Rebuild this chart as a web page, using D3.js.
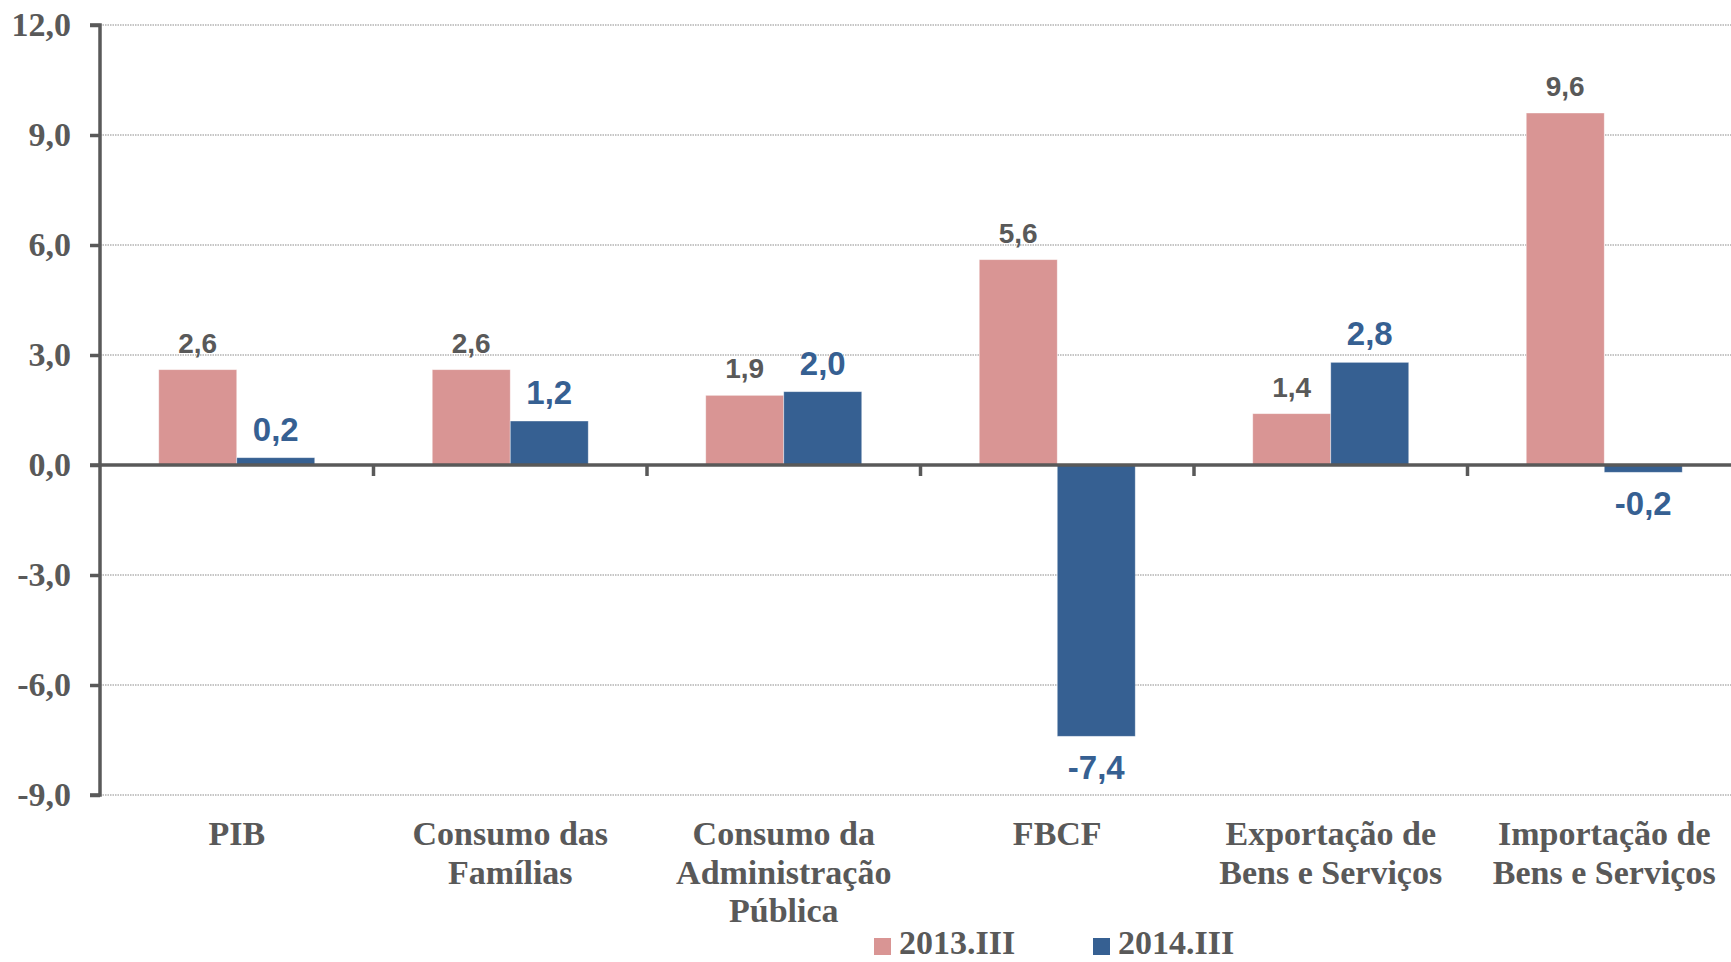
<!DOCTYPE html>
<html>
<head>
<meta charset="utf-8">
<script src="https://cdn.jsdelivr.net/npm/d3@7"></script>
<style>
  html, body { margin: 0; padding: 0; background: #fff; }
  svg { display: block; }
</style>
</head>
<body>
<svg id="chart" width="1731" height="962"></svg>
<script>
const categories = [
  ["PIB"],
  ["Consumo das", "Famílias"],
  ["Consumo da", "Administração", "Pública"],
  ["FBCF"],
  ["Exportação de", "Bens e Serviços"],
  ["Importação de", "Bens e Serviços"]
];
const seriesNames = ["2013.III", "2014.III"];
const values2013 = [2.6, 2.6, 1.9, 5.6, 1.4, 9.6];
const values2014 = [0.2, 1.2, 2.0, -7.4, 2.8, -0.2];
const yTicks = [12, 9, 6, 3, 0, -3, -6, -9];

const colors = ["#D99594", "#366092"];
const labelColors = ["#595959", "#366092"];
const gray = "#595959";

(function () {
const svg = d3.select("#chart");
const left = 100, plotTop = 25, plotBottom = 795;
const rightBand = 1741;

const y = d3.scaleLinear().domain([-9, 12]).range([plotBottom, plotTop]);
const x0 = d3.scaleBand().domain(d3.range(categories.length)).range([left, rightBand]).paddingInner(0).paddingOuter(0);
const x1 = d3.scaleBand().domain([0, 1]).range([0, x0.bandwidth()]).paddingInner(0).paddingOuter(0.753);

// gridlines
svg.append("g").selectAll("line").data(yTicks.filter(d => d !== 0)).join("line")
  .attr("x1", left).attr("x2", 1731)
  .attr("y1", d => y(d)).attr("y2", d => y(d))
  .attr("stroke", "#8c8c8c").attr("stroke-width", 1.2).attr("stroke-dasharray", "1.5,1");

// y axis
const yAxis = d3.axisLeft(y).tickValues(yTicks).tickSize(10).tickPadding(19)
  .tickFormat(d => d3.format(".1f")(d).replace(".", ",").replace("−", "-"));
const gy = svg.append("g").attr("transform", `translate(${left},0)`).call(yAxis);
gy.select(".domain").attr("stroke", gray).attr("stroke-width", 3.5).attr("d", `M-10,${plotTop}H0V${plotBottom}H-10`);
gy.selectAll(".tick line").attr("stroke", gray).attr("stroke-width", 3.5);
gy.selectAll(".tick text")
  .attr("font-family", "'Liberation Serif', 'Times New Roman', serif")
  .attr("font-weight", "bold").attr("font-size", 34).attr("fill", gray)
  .attr("dy", "0.32em");

const data = categories.map((c, i) => ({ i, vals: [values2013[i], values2014[i]] }));

// bars
const groups = svg.append("g").selectAll("g").data(data).join("g")
  .attr("transform", d => `translate(${x0(d.i)},0)`);
groups.selectAll("rect").data(d => d.vals.map((v, s) => ({ v, s }))).join("rect")
  .attr("x", d => x1(d.s))
  .attr("width", x1.bandwidth())
  .attr("y", d => Math.min(y(d.v), y(0)))
  .attr("height", d => Math.abs(y(d.v) - y(0)))
  .attr("fill", d => colors[d.s])
  .attr("stroke", "#ffffff").attr("stroke-opacity", 0.5).attr("stroke-width", 0.8);

// data labels
groups.selectAll("text").data(d => d.vals.map((v, s) => ({ v, s }))).join("text")
  .attr("x", d => x1(d.s) + x1.bandwidth() / 2)
  .attr("y", d => d.v >= 0 ? y(d.v) - 17 : y(d.v) + 43)
  .attr("text-anchor", "middle")
  .attr("font-family", "'Liberation Sans', Arial, sans-serif")
  .attr("font-weight", "bold")
  .attr("font-size", d => d.s === 0 ? 28 : 33)
  .attr("fill", d => labelColors[d.s])
  .text(d => d3.format(".1f")(d.v).replace(".", ",").replace("−", "-"));

// zero line + category ticks
svg.append("line").attr("x1", left - 10).attr("x2", 1731)
  .attr("y1", y(0)).attr("y2", y(0)).attr("stroke", gray).attr("stroke-width", 3.5);
svg.append("g").selectAll("line").data(d3.range(1, categories.length)).join("line")
  .attr("x1", d => x0(d)).attr("x2", d => x0(d))
  .attr("y1", y(0)).attr("y2", y(0) + 11)
  .attr("stroke", gray).attr("stroke-width", 3.5);

// category labels
const catG = svg.append("g").selectAll("text").data(categories).join("text")
  .attr("x", (d, i) => x0(i) + x0.bandwidth() / 2)
  .attr("y", 845)
  .attr("text-anchor", "middle")
  .attr("font-family", "'Liberation Serif', 'Times New Roman', serif")
  .attr("font-weight", "bold").attr("font-size", 34).attr("fill", gray);
catG.selectAll("tspan").data(d => d).join("tspan")
  .attr("x", function () { return this.parentNode.getAttribute("x"); })
  .attr("dy", (d, j) => j === 0 ? 0 : 38.5)
  .text(d => d);

// legend
const legendX = [874, 1093];
const lg = svg.append("g").selectAll("g").data(seriesNames).join("g")
  .attr("transform", (d, i) => `translate(${legendX[i]},938)`);
lg.append("rect").attr("width", 17).attr("height", 17).attr("fill", (d, i) => colors[i]);
lg.append("text").attr("x", 25).attr("y", 16)
  .attr("font-family", "'Liberation Serif', 'Times New Roman', serif")
  .attr("font-weight", "bold").attr("font-size", 34).attr("fill", gray)
  .text(d => d);
})();
</script>
</body>
</html>
